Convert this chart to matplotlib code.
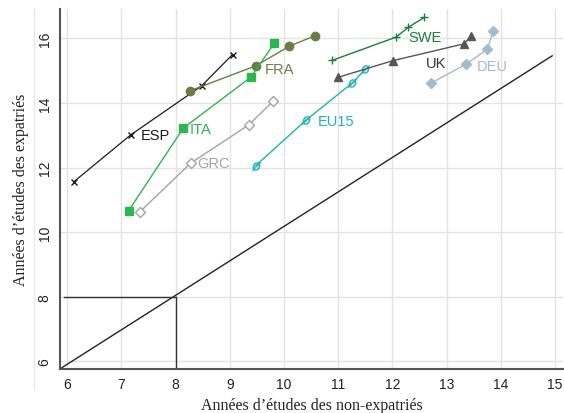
import matplotlib.pyplot as plt
from matplotlib.lines import Line2D

# years of schooling: non-expatriates (x) vs expatriates (y), by country
esp_x = [6.12, 7.17, 8.48, 9.05]
esp_y = [11.56, 13.01, 14.53, 15.50]
fra_x = [8.27, 9.48, 10.10, 10.57]
fra_y = [14.38, 15.15, 15.76, 16.08]
ita_x = [7.13, 8.14, 9.39, 9.82]
ita_y = [10.66, 13.22, 14.80, 15.85]
grc_x = [7.34, 8.28, 9.35, 9.80]
grc_y = [10.63, 12.14, 13.32, 14.06]
eu15_x = [9.48, 10.40, 11.26, 11.50]
eu15_y = [12.06, 13.46, 14.62, 15.04]
swe_x = [10.89, 12.07, 12.29, 12.59]
swe_y = [15.32, 16.04, 16.34, 16.65]
uk_x = [10.99, 12.01, 13.32, 13.45]
uk_y = [14.79, 15.31, 15.83, 16.06]
deu_x = [12.72, 13.36, 13.75, 13.86]
deu_y = [14.62, 15.20, 15.66, 16.22]

diag_x = [5.88, 14.95]
diag_y = [5.78, 15.46]

xticks = [6, 7, 8, 9, 10, 11, 12, 13, 14, 15]
yticks = [6, 8, 10, 12, 14, 16]

fig = plt.figure(figsize=(5.64, 4.14), dpi=100)
ax = fig.add_axes([60/564, 44/414, 503/564, 360/414])

ax.set_xlim(5.865, 15.15)
ax.set_ylim(5.76, 16.91)
ax.set_xticks(xticks)
ax.set_yticks(yticks)
ax.grid(True, color='#e3e3e3', linewidth=1.0)
ax.set_axisbelow(True)
for s in ['top', 'right']:
    ax.spines[s].set_visible(False)
for s in ['left', 'bottom']:
    ax.spines[s].set_color('#555555')
    ax.spines[s].set_linewidth(1.5)
ax.tick_params(length=0, labelsize=10, colors='#222222', pad=6)
for lab in ax.get_xticklabels() + ax.get_yticklabels():
    lab.set_family('Liberation Sans')
for lab in ax.get_yticklabels():
    lab.set_rotation(90)
    lab.set_va('center')

# reference lines
ax.plot(diag_x, diag_y, color='#222222', lw=1.0)
ax.plot([5.93, 8], [8, 8], color='#333333', lw=1.0)
ax.plot([8, 8], [5.76, 8], color='#333333', lw=1.0)

ax.plot(esp_x, esp_y, color='#1a1a1a', lw=0.9, marker='x', ms=4.5, mew=1.0)
ax.plot(fra_x, fra_y, color='#6b7d45', lw=1.0, marker='o', ms=6)
ax.plot(ita_x, ita_y, color='#2fb54f', lw=1.0, marker='s', ms=5.5)
ax.plot(grc_x, grc_y, color='#a3a3a3', lw=1.0, marker='D', ms=5, mfc='white')
ax.plot(eu15_x, eu15_y, color='#1db3b6', lw=1.0, marker='$ø$', ms=6.5, mew=0.2)
ax.plot(swe_x, swe_y, color='#1b7d3c', lw=1.0, marker='+', ms=6, mew=1.0)
ax.plot(uk_x, uk_y, color='#555555', lw=1.0, marker='^', ms=6)
ax.plot(deu_x, deu_y, color='#a2bccc', lw=1.0, marker='D', ms=5.5)

lab_kw = dict(fontsize=10.5, family='Liberation Sans', va='center', ha='left')
ax.text(7.36, 13.00, 'ESP', color='#1a1a1a', **lab_kw)
ax.text(9.65, 15.06, 'FRA', color='#6b7d45', **lab_kw)
ax.text(8.25, 13.20, 'ITA', color='#2fb54f', **lab_kw)
ax.text(8.40, 12.14, 'GRC', color='#a3a3a3', **lab_kw)
ax.text(10.62, 13.44, 'EU15', color='#1db3b6', **lab_kw)
ax.text(12.29, 16.05, 'SWE', color='#1b7d3c', **lab_kw)
ax.text(12.62, 15.24, 'UK', color='#333333', **lab_kw)
ax.text(13.56, 15.13, 'DEU', color='#a2bccc', **lab_kw)

ax.set_xlabel("Années d\u2019études des non-expatriés", family='Liberation Serif',
              fontsize=11.5, color='#222222', labelpad=4)
ax.set_ylabel("Années d\u2019études des expatriés", family='Liberation Serif',
              fontsize=11.5, color='#222222', labelpad=6)

# faint frame line at the left edge
fig.add_artist(Line2D([34/564, 34/564], [24/414, 404/414], color='#e8e8e8', lw=1.0))

fig.savefig('out.png', dpi=100)
